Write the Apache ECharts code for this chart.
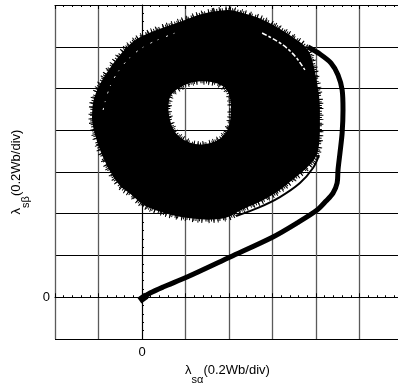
<!DOCTYPE html>
<html>
<head>
<meta charset="utf-8">
<script src="https://cdn.jsdelivr.net/npm/echarts@6/dist/echarts.min.js"></script>
<style>
  html, body { margin: 0; padding: 0; background: #fff; }
  #chart { width: 398px; height: 388px; }
</style>
</head>
<body>
<div id="chart"></div>
<script>
// Stator flux locus (λsα, λsβ), in Wb; one grid division = 0.2 Wb.
const xMin = -0.4, xMax = 1.186;
const yMin = -0.2, yMax = 1.4;
const step = 0.2;
const labeledTicks = [0];

// Outer edge of the steady-state flux band
const ringOuter = [
  [0.391, 1.381], [0.451, 1.366], [0.543, 1.338], [0.621, 1.295], [0.694, 1.247],
  [0.763, 1.194], [0.786, 1.127], [0.805, 1.026], [0.818, 0.945], [0.818, 0.863],
  [0.818, 0.753], [0.805, 0.672], [0.749, 0.610], [0.690, 0.562], [0.625, 0.504],
  [0.543, 0.456], [0.451, 0.418], [0.405, 0.384], [0.359, 0.375], [0.290, 0.370],
  [0.175, 0.384], [0.097, 0.404], [0.023, 0.432], [-0.009, 0.452], [-0.055, 0.499],
  [-0.101, 0.528], [-0.161, 0.624], [-0.207, 0.739], [-0.230, 0.835], [-0.230, 0.883],
  [-0.225, 0.945], [-0.193, 1.026], [-0.133, 1.122], [-0.055, 1.218], [0.023, 1.266],
  [0.175, 1.319], [0.267, 1.357]
];

// Inner edge (hole) of the flux band
const ringInner = [
  [0.120, 0.921], [0.129, 0.969], [0.161, 0.998], [0.221, 1.031], [0.290, 1.036],
  [0.349, 1.026], [0.391, 0.998], [0.409, 0.945], [0.409, 0.873], [0.400, 0.811],
  [0.368, 0.763], [0.313, 0.734], [0.248, 0.729], [0.189, 0.753], [0.147, 0.792],
  [0.124, 0.859]
];

// Sparse gaps between orbits inside the band
const gapUpperLeft = [
  [-0.179, 0.897], [-0.156, 1.002], [-0.101, 1.098], [-0.032, 1.175], [0.046, 1.223],
  [0.152, 1.266]
];
const gapUpperRight = [
  [0.552, 1.266], [0.634, 1.223], [0.703, 1.160], [0.749, 1.089]
];

// Start-up trajectory from the origin into the band
const startUp = [
  [-0.005, -0.008], [0.037, 0.020], [0.097, 0.049], [0.207, 0.097], [0.405, 0.193],
  [0.602, 0.289], [0.713, 0.356], [0.805, 0.418], [0.846, 0.461], [0.878, 0.499],
  [0.897, 0.547], [0.901, 0.610], [0.910, 0.691], [0.920, 0.787], [0.924, 0.897],
  [0.920, 0.993], [0.901, 1.065], [0.869, 1.122], [0.818, 1.165], [0.763, 1.199]
];

// Initial point
const startBlob = [[-0.012, -0.016], [0.020, 0.008]];

// Transient orbit running along the lower-right edge of the band
const edgeOrbit = [
  [0.432, 0.389], [0.533, 0.428], [0.634, 0.480], [0.726, 0.547], [0.786, 0.619],
  [0.814, 0.681]
];

const FONT = 'Liberation Sans, Arial, sans-serif';

const nameRich = {
  m: { fontFamily: FONT, fontSize: 13, color: '#000', lineHeight: 30 },
  s: { fontFamily: FONT, fontSize: 11, color: '#000', lineHeight: 10, verticalAlign: 'bottom' }
};

function zeroOnly(v) {
  return labeledTicks.some(t => Math.abs(t - v) < 1e-9) ? '0' : '';
}

const tickCommon = {
  axisLine: { show: true, lineStyle: { color: '#000', width: 1 } },
  axisTick: { show: true, inside: true, length: 4, lineStyle: { color: '#000', width: 1 } },
  minorTick: { show: true, splitNumber: 5, length: 2, lineStyle: { color: '#000', width: 1 } }
};

// Closed smooth outline through the given screen points (midpoint quadratic curves)
function smoothClosed(pts) {
  const n = pts.length;
  const mid = (a, b) => [(a[0] + b[0]) / 2, (a[1] + b[1]) / 2];
  const f = v => v.toFixed(1);
  const m0 = mid(pts[n - 1], pts[0]);
  let d = 'M' + f(m0[0]) + ' ' + f(m0[1]);
  for (let i = 0; i < n; i++) {
    const p = pts[i], m = mid(p, pts[(i + 1) % n]);
    d += ' Q' + f(p[0]) + ' ' + f(p[1]) + ' ' + f(m[0]) + ' ' + f(m[1]);
  }
  return d + ' Z';
}

function smoothOpen(pts) {
  const f = v => v.toFixed(1);
  let d = 'M' + f(pts[0][0]) + ' ' + f(pts[0][1]);
  for (let i = 1; i < pts.length - 1; i++) {
    const m = [(pts[i][0] + pts[i + 1][0]) / 2, (pts[i][1] + pts[i + 1][1]) / 2];
    d += ' Q' + f(pts[i][0]) + ' ' + f(pts[i][1]) + ' ' + f(m[0]) + ' ' + f(m[1]);
  }
  const last = pts[pts.length - 1];
  return d + ' L' + f(last[0]) + ' ' + f(last[1]);
}

const chart = echarts.init(document.getElementById('chart'), null, { renderer: 'canvas' });

chart.setOption({
  animation: false,
  backgroundColor: '#fff',
  grid: { left: 55, top: 5, right: -2, bottom: 49, containLabel: false, outerBoundsMode: 'none' },
  xAxis: [
    Object.assign({
      type: 'value', position: 'bottom', min: xMin, max: xMax, interval: step,
      name: '{m|λ}{s|sα}{m|(0.2Wb/div)}',
      nameLocation: 'middle', nameGap: 14,
      nameTextStyle: { rich: nameRich },
      axisLabel: { formatter: zeroOnly, fontFamily: FONT, fontSize: 13, color: '#000', margin: 7 },
      splitLine: { show: true, lineStyle: { color: '#5a5a5a', width: 1.3 } }
    }, tickCommon),
    Object.assign({
      type: 'value', position: 'top', min: xMin, max: xMax, interval: step,
      axisLabel: { show: false },
      splitLine: { show: false }
    }, tickCommon)
  ],
  yAxis: [
    Object.assign({
      type: 'value', position: 'left', min: yMin, max: yMax, interval: step,
      name: '{m|λ}{s|sβ}{m|(0.2Wb/div)}',
      nameLocation: 'middle', nameGap: 16,
      nameTextStyle: { rich: nameRich },
      axisLabel: { formatter: zeroOnly, fontFamily: FONT, fontSize: 13, color: '#000', margin: 5 },
      splitLine: { show: true, lineStyle: { color: '#000', width: 1 } }
    }, tickCommon)
  ],
  series: [
    {
      type: 'custom',
      coordinateSystem: 'cartesian2d',
      xAxisIndex: 0, yAxisIndex: 0,
      data: [[0, 0]],
      z: 3,
      renderItem: function (params, api) {
        const outer = ringOuter.map(p => api.coord(p));
        const inner = ringInner.slice().reverse().map(p => api.coord(p));
        const band = smoothClosed(outer) + ' ' + smoothClosed(inner);
        return {
          type: 'group',
          children: [
            {
              type: 'path', shape: { pathData: band },
              style: { fill: '#000', stroke: '#000', lineWidth: 4, lineDash: [1, 1.5, 1, 2.5, 1, 1, 1, 3] }
            },
            {
              type: 'path', shape: { pathData: band },
              style: { fill: null, stroke: '#000', lineWidth: 7, lineDash: [1, 4, 1, 6, 1, 3] }
            },
            {
              type: 'path', shape: { pathData: smoothOpen(gapUpperLeft.map(p => api.coord(p))) },
              style: { fill: null, stroke: '#fff', lineWidth: 1, lineDash: [2, 6, 1, 8] }
            },
            {
              type: 'path', shape: { pathData: smoothOpen(gapUpperRight.map(p => api.coord(p))) },
              style: { fill: null, stroke: '#fff', lineWidth: 1.5, lineDash: [5, 2, 3, 2] }
            }
          ]
        };
      }
    },
    {
      type: 'line', data: startUp, xAxisIndex: 0, yAxisIndex: 0,
      showSymbol: false, smooth: 0.3, z: 4,
      lineStyle: { color: '#000', width: 5 }
    },
    {
      type: 'line', data: edgeOrbit, xAxisIndex: 0, yAxisIndex: 0,
      showSymbol: false, smooth: 0.3, z: 4,
      lineStyle: { color: '#000', width: 2 }
    },
    {
      type: 'line', data: startBlob, xAxisIndex: 0, yAxisIndex: 0,
      showSymbol: false, z: 4,
      lineStyle: { color: '#000', width: 7 }
    }
  ]
});
</script>
</body>
</html>
